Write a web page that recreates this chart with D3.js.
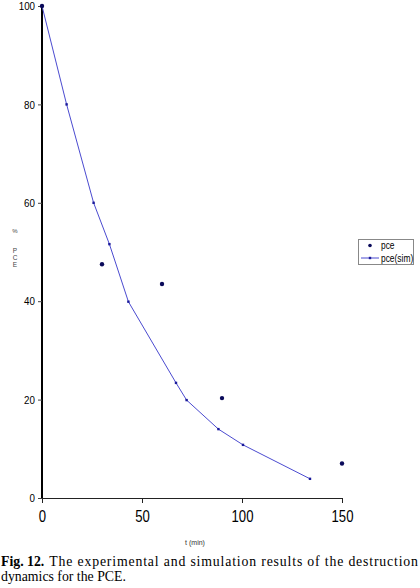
<!DOCTYPE html>
<html><head><meta charset="utf-8">
<script src="https://cdn.jsdelivr.net/npm/d3@7"></script>
<style>
html,body{margin:0;padding:0;background:#fff;}
svg{display:block;}
</style></head>
<body>
<script>
// Experimental data (pce)
const expT = [0, 30, 60, 90, 150];
const expV = [100, 47.5, 43.5, 20.3, 7];
// Simulation (pce(sim))
const simT = [0, 12.3, 25.8, 33.7, 43.2, 67, 72.3, 88.2, 100.5, 134];
const simV = [100, 80, 60, 51.6, 39.9, 23.4, 19.9, 14.0, 10.8, 3.9];
const xTicks = [0, 50, 100, 150];
const yTicks = [0, 20, 40, 60, 80, 100];
const legendLabels = ["pce", "pce(sim)"];
const xLabel = "t (min)";
const captionBold = "Fig. 12.";
const captionLine1 = "The experimental and simulation results of the destruction";
const captionLine2 = "dynamics for the PCE.";

const W = 420, H = 588;
const svg = d3.select("body").append("svg").attr("width", W).attr("height", H);
const x = d3.scaleLinear().domain([0, 150]).range([42, 342]);
const y = d3.scaleLinear().domain([0, 100]).range([498, 6]);
const sans = "'Liberation Sans',Arial,sans-serif";
function narrowify(sel, f) {
  sel.each(function(){
    const w = this.getComputedTextLength();
    d3.select(this).attr("textLength", w * f).attr("lengthAdjust", "spacingAndGlyphs");
  });
}

// x axis
const xa = svg.append("g").attr("transform", "translate(0,498)")
  .call(d3.axisBottom(x).tickValues(xTicks).tickSize(5).tickPadding(8).tickFormat(d3.format("d")));
xa.select(".domain").attr("stroke", "#222").attr("stroke-width", 1);
xa.selectAll(".tick line").attr("stroke", "#222");
xa.selectAll("text").attr("font-family", sans).attr("font-size", 16).attr("fill", "#000");
narrowify(xa.selectAll("text"), 0.82);

// y axis
const ya = svg.append("g").attr("transform", "translate(42,0)")
  .call(d3.axisLeft(y).tickValues(yTicks).tickSize(4).tickPadding(3).tickFormat(d3.format("d")));
ya.select(".domain").attr("stroke", "#000").attr("stroke-width", 2).attr("d", `M0,${y(100)}V${y(0)}`);
ya.selectAll(".tick line").attr("stroke", "#444");
ya.selectAll("text").attr("font-family", sans).attr("font-size", 11.5).attr("fill", "#000");
narrowify(ya.selectAll("text"), 0.85);

// axis titles
svg.append("text").attr("x", 195).attr("y", 545).attr("text-anchor", "middle")
  .attr("font-family", sans).attr("font-size", 7).attr("fill", "#333").text(xLabel);
svg.append("text").attr("x", 15).attr("y", 233).attr("text-anchor", "middle")
  .attr("font-family", sans).attr("font-size", 6).attr("fill", "#444").text("%");
["P","C","E"].forEach((c,i)=>{
  svg.append("text").attr("x", 15).attr("y", 253 + i*7).attr("text-anchor", "middle")
    .attr("font-family", sans).attr("font-size", 6.5).attr("fill", "#444").text(c);
});

// sim line
const simData = simT.map((t,i)=>({t, v: simV[i]}));
svg.append("path").datum(simData)
  .attr("fill", "none").attr("stroke", "#4b4bd0").attr("stroke-width", 1)
  .attr("d", d3.line().x(d=>x(d.t)).y(d=>y(d.v)));
svg.selectAll(".simpt").data(simData).enter().append("rect")
  .attr("x", d=>x(d.t)-1.2).attr("y", d=>y(d.v)-1.2).attr("width", 2.4).attr("height", 2.4)
  .attr("fill", "#1a1a9a");

// exp points
const expData = expT.map((t,i)=>({t, v: expV[i]}));
svg.selectAll(".exppt").data(expData).enter().append("circle")
  .attr("cx", d=>x(d.t)).attr("cy", d=>y(d.v)).attr("r", 2.2).attr("fill", "#0a0a5a");

// legend
const lg = svg.append("g");
lg.append("rect").attr("x", 358.5).attr("y", 239.5).attr("width", 55).attr("height", 25)
  .attr("fill", "#fff").attr("stroke", "#888").attr("stroke-width", 1);
lg.append("circle").attr("cx", 370).attr("cy", 245.5).attr("r", 1.8).attr("fill", "#0a0a5a");
lg.append("line").attr("x1", 361).attr("x2", 379).attr("y1", 258).attr("y2", 258)
  .attr("stroke", "#4b4bd0").attr("stroke-width", 1);
lg.append("rect").attr("x", 368.8).attr("y", 256.8).attr("width", 2.4).attr("height", 2.4).attr("fill", "#1a1a9a");
const lt = lg.selectAll(".lt").data(legendLabels).enter().append("text")
  .attr("x", 381).attr("y", (d,i)=>249 + i*12.5)
  .attr("font-family", sans).attr("font-size", 10.5).attr("fill", "#000").text(d=>d);
narrowify(lt, 0.8);

// caption
const serif = "'Liberation Serif','Times New Roman',serif";
const b = svg.append("text").attr("x", 1).attr("y", 566)
  .attr("font-family", serif).attr("font-size", 13.8).attr("font-weight", "bold").attr("fill", "#000")
  .text(captionBold);
const bw = b.node().getComputedTextLength();
svg.append("text").attr("x", 1 + bw + 5).attr("y", 566)
  .attr("font-family", serif).attr("font-size", 13.8).attr("fill", "#000")
  .attr("textLength", 418 - (1 + bw + 5)).attr("lengthAdjust", "spacing")
  .text(captionLine1);
svg.append("text").attr("x", 1).attr("y", 581)
  .attr("font-family", serif).attr("font-size", 13.8).attr("fill", "#000")
  .text(captionLine2);
</script>
</body></html>
